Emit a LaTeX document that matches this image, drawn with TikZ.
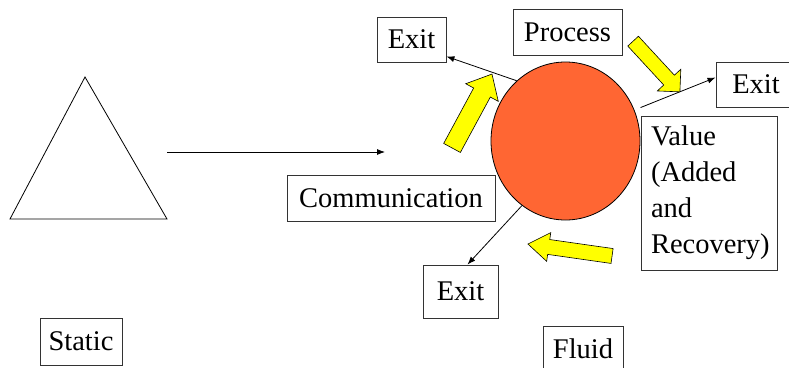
\documentclass[tikz,border=0pt]{standalone}
\usepackage{fontspec}
\setmainfont{Liberation Serif}
\usetikzlibrary{shapes.geometric,arrows.meta}
\definecolor{orb}{HTML}{FF6633}
\definecolor{yel}{HTML}{FFFF00}
% block arrow: center x, center y, angle, length, shaft half width, head half width, head length
\newcommand\yblockarrow[7]{%
  \begin{scope}[shift={(#1,#2)}, rotate=#3]
    \filldraw[yarrow] (-#4pt/2,-#5pt) -- (#4pt/2-#7pt,-#5pt) -- (#4pt/2-#7pt,-#6pt) -- (#4pt/2,0pt)
      -- (#4pt/2-#7pt,#6pt) -- (#4pt/2-#7pt,#5pt) -- (-#4pt/2,#5pt) -- cycle;
  \end{scope}}
\begin{document}
\begin{tikzpicture}[x=1pt,y=-1pt,
  box/.style={draw=black!80, line width=0.9pt, fill=white, inner sep=0pt, font=\fontsize{28.5}{36}\selectfont},
  conn/.style={-{Latex[length=8pt,width=6pt]}, line width=0.8pt},
  yarrow/.style={draw=black, line width=0.6pt, fill=yel, line join=miter}]
\useasboundingbox (0,0) rectangle (789,367);
% triangle
\draw[line width=0.8pt] (85,77) -- (167,219) -- (10,219) -- cycle;
\coordinate (hs) at (167,152);
\coordinate (he) at (385,152);
\draw[conn] (hs) -- (he);
% circle
\node[ellipse, draw=black, line width=0.8pt, fill=orb, minimum width=149pt, minimum height=158pt, inner sep=0pt] (circ) at (565.5,141) {};
% boxes
\node[box, minimum width=69pt, minimum height=45pt] (exitTL) at (411.5,39.5) {Exit};
\node[box, minimum width=109pt, minimum height=46pt] (proc) at (567.5,32) {Process};
\node[box, minimum width=80pt, minimum height=45pt] (exitR) at (756,84.5) {Exit};
\node[box, minimum width=136pt, minimum height=154pt, text width=116pt, align=left] (val) at (709,193) {Value\\(Added\\and\\Recovery)};
\node[box, minimum width=208pt, minimum height=46pt] (comm) at (391,198) {Communication};
\node[box, minimum width=75pt, minimum height=53pt] (exitB) at (460.5,291.5) {Exit};
\node[box, minimum width=80pt, minimum height=46pt] (fluid) at (583,349) {Fluid};
\node[box, minimum width=82pt, minimum height=47pt] (static) at (81,341.5) {Static};
% connectors
\draw[conn] (circ.129) -- ([yshift=6pt]exitTL.south east);
\draw[conn] ([yshift=8pt]val.north west) -- ([yshift=7pt]exitR.west);
\draw[conn] (circ.236) -- ([xshift=7pt]exitB.north);
% yellow block arrows
\yblockarrow{472}{111}{61.6}{84}{9.5}{18.5}{21}
\yblockarrow{656.5}{66.5}{-47.3}{69}{7.25}{16}{16}
\yblockarrow{570}{250}{171.9}{85}{7.5}{14.5}{21}
\end{tikzpicture}
\end{document}
